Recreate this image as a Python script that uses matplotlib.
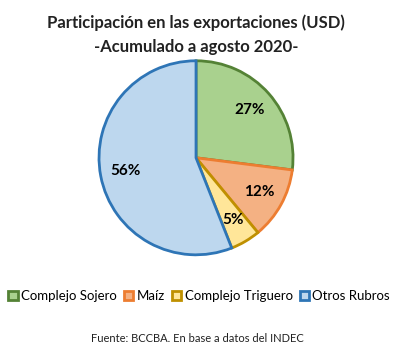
import matplotlib
matplotlib.use("Agg")
import matplotlib.pyplot as plt
from matplotlib.patches import Patch

categories = ["Complejo Sojero", "Maíz", "Complejo Triguero", "Otros Rubros"]
values = [27, 12, 5, 56]
fills = ["#A9D18E", "#F4B183", "#FFE699", "#BDD7EE"]
edges = ["#548235", "#ED7D31", "#BF9000", "#2E75B6"]

plt.rcParams['font.family'] = ['Lato', 'DejaVu Sans']

fig = plt.figure(figsize=(4.15, 3.64), dpi=100)
fig.patch.set_facecolor("white")

ax = fig.add_axes([0.2386, 0.3, 0.4675, 0.533])
wedges, texts, autotexts = ax.pie(values, colors=fills, startangle=90, counterclock=False,
                                  autopct=lambda p: f"{p:.0f}%", pctdistance=0.74,
                                  wedgeprops=dict(linewidth=2.0),
                                  textprops=dict(fontsize=11, fontweight='bold', color='black'))
for w, e in zip(wedges, edges):
    w.set_edgecolor(e)
ax.set_aspect('equal')
ax.set_xlim(-1.0, 1.0)
ax.set_ylim(-1.0, 1.0)

fig.text(0.472, 0.937, "Participación en las exportaciones (USD)", ha='center', va='center',
         fontsize=12, fontweight='bold', color='#222222')
fig.text(0.472, 0.871, "-Acumulado a agosto 2020-", ha='center', va='center',
         fontsize=12, fontweight='bold', color='#222222')

handles = [Patch(facecolor=f, edgecolor=e, linewidth=2) for f, e in zip(fills, edges)]
fig.legend(handles, categories, loc='center', bbox_to_anchor=(0.48, 0.187), ncol=4,
           frameon=False, fontsize=9.5, handlelength=0.7, handleheight=0.7,
           handletextpad=0.25, columnspacing=0.55)

fig.text(0.475, 0.071, "Fuente: BCCBA. En base a datos del INDEC", ha='center', va='center',
         fontsize=8, color='#222222')

fig.savefig("out.png", dpi=100)
